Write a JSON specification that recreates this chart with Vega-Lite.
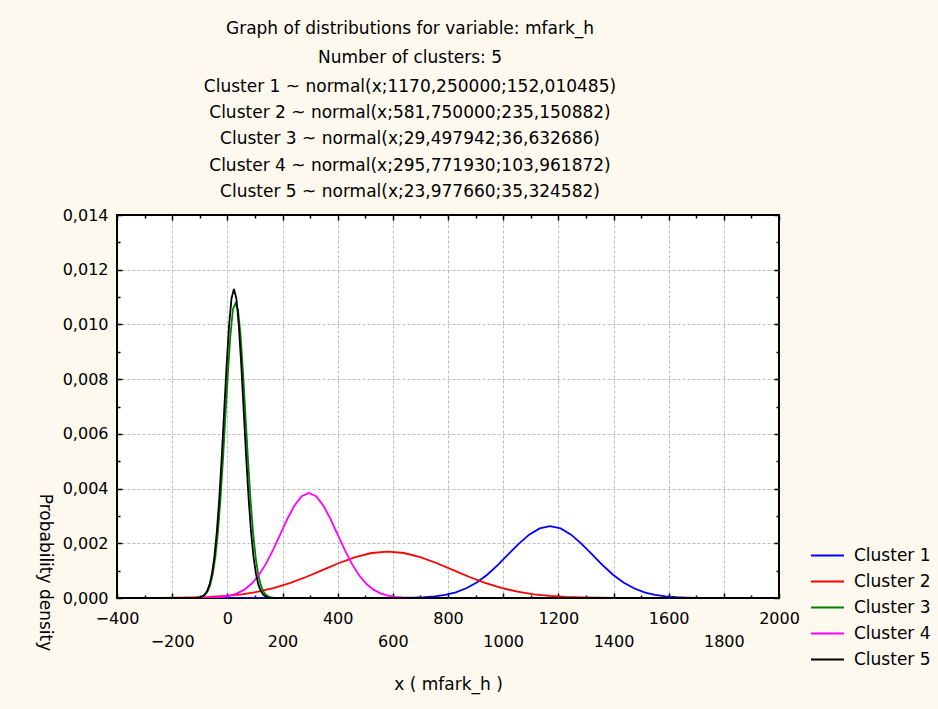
{
  "$schema": "https://vega.github.io/schema/vega-lite/v6.json",
  "width": 662,
  "height": 383,
  "autosize": {"type": "none"},
  "padding": {"left": 117, "top": 215, "right": 159, "bottom": 111},
  "background": "#FDF9EF",
  "config": {
    "font": "DejaVu Sans",
    "view": {"stroke": "black", "strokeWidth": 2, "fill": "white"},
    "axis": {"labelFont": "DejaVu Sans", "labelFontSize": 16, "labelColor": "black", "titleFont": "DejaVu Sans", "titleFontSize": 17, "titleFontWeight": "normal", "titleColor": "black", "gridColor": "#bdbdbd", "gridDash": [3, 2], "gridWidth": 1, "tickColor": "black", "tickWidth": 1.5, "domain": false, "labelOverlap": false, "labelFlush": false},
    "legend": {"labelFont": "DejaVu Sans", "labelFontSize": 17, "labelColor": "black"}
  },
  "title": {
    "text": ["Graph of distributions for variable: mfark_h", "Number of clusters: 5"],
    "subtitle": ["Cluster 1 ~ normal(x;1170,250000;152,010485)", "Cluster 2 ~ normal(x;581,750000;235,150882)", "Cluster 3 ~ normal(x;29,497942;36,632686)", "Cluster 4 ~ normal(x;295,771930;103,961872)", "Cluster 5 ~ normal(x;23,977660;35,324582)"],
    "font": "DejaVu Sans", "subtitleFont": "DejaVu Sans",
    "fontSize": 17, "subtitleFontSize": 17,
    "fontWeight": "normal", "color": "black", "subtitleColor": "black",
    "lineHeight": 29, "subtitleLineHeight": 26.3, "subtitlePadding": 12,
    "anchor": "middle", "dx": -38, "offset": 6
  },
  "data": {"values": [
    {"cluster": "Cluster 1", "x": -400, "density": 0},
    {"cluster": "Cluster 1", "x": 562.21, "density": 0.00000088},
    {"cluster": "Cluster 1", "x": 600.21, "density": 0.00000233},
    {"cluster": "Cluster 1", "x": 638.21, "density": 0.00000575},
    {"cluster": "Cluster 1", "x": 676.22, "density": 0.00001333},
    {"cluster": "Cluster 1", "x": 714.22, "density": 0.00002916},
    {"cluster": "Cluster 1", "x": 752.22, "density": 0.00005981},
    {"cluster": "Cluster 1", "x": 790.23, "density": 0.00011532},
    {"cluster": "Cluster 1", "x": 828.23, "density": 0.00020881},
    {"cluster": "Cluster 1", "x": 866.23, "density": 0.0003552},
    {"cluster": "Cluster 1", "x": 904.23, "density": 0.0005676},
    {"cluster": "Cluster 1", "x": 942.24, "density": 0.00085204},
    {"cluster": "Cluster 1", "x": 980.24, "density": 0.0012016},
    {"cluster": "Cluster 1", "x": 1018.24, "density": 0.0015918},
    {"cluster": "Cluster 1", "x": 1056.24, "density": 0.0019811},
    {"cluster": "Cluster 1", "x": 1094.25, "density": 0.0023161},
    {"cluster": "Cluster 1", "x": 1132.25, "density": 0.0025437},
    {"cluster": "Cluster 1", "x": 1170.25, "density": 0.0026245},
    {"cluster": "Cluster 1", "x": 1208.25, "density": 0.0025437},
    {"cluster": "Cluster 1", "x": 1246.26, "density": 0.0023161},
    {"cluster": "Cluster 1", "x": 1284.26, "density": 0.0019811},
    {"cluster": "Cluster 1", "x": 1322.26, "density": 0.0015918},
    {"cluster": "Cluster 1", "x": 1360.26, "density": 0.0012016},
    {"cluster": "Cluster 1", "x": 1398.27, "density": 0.00085204},
    {"cluster": "Cluster 1", "x": 1436.27, "density": 0.0005676},
    {"cluster": "Cluster 1", "x": 1474.27, "density": 0.0003552},
    {"cluster": "Cluster 1", "x": 1512.27, "density": 0.00020881},
    {"cluster": "Cluster 1", "x": 1550.28, "density": 0.00011532},
    {"cluster": "Cluster 1", "x": 1588.28, "density": 0.00005981},
    {"cluster": "Cluster 1", "x": 1626.28, "density": 0.00002916},
    {"cluster": "Cluster 1", "x": 1664.28, "density": 0.00001333},
    {"cluster": "Cluster 1", "x": 1702.29, "density": 0.00000575},
    {"cluster": "Cluster 1", "x": 1740.29, "density": 0.00000233},
    {"cluster": "Cluster 1", "x": 1778.29, "density": 0.00000088},
    {"cluster": "Cluster 1", "x": 2000, "density": 0},

    {"cluster": "Cluster 2", "x": -400, "density": 0.0000003},
    {"cluster": "Cluster 2", "x": -358.85, "density": 0.00000057},
    {"cluster": "Cluster 2", "x": -300.06, "density": 0.00000151},
    {"cluster": "Cluster 2", "x": -241.28, "density": 0.00000372},
    {"cluster": "Cluster 2", "x": -182.49, "density": 0.00000862},
    {"cluster": "Cluster 2", "x": -123.70, "density": 0.00001885},
    {"cluster": "Cluster 2", "x": -64.91, "density": 0.00003867},
    {"cluster": "Cluster 2", "x": -6.13, "density": 0.00007455},
    {"cluster": "Cluster 2", "x": 52.66, "density": 0.00013498},
    {"cluster": "Cluster 2", "x": 111.45, "density": 0.00022962},
    {"cluster": "Cluster 2", "x": 170.24, "density": 0.00036692},
    {"cluster": "Cluster 2", "x": 229.02, "density": 0.0005508},
    {"cluster": "Cluster 2", "x": 287.81, "density": 0.00077676},
    {"cluster": "Cluster 2", "x": 346.60, "density": 0.001029},
    {"cluster": "Cluster 2", "x": 405.39, "density": 0.0012807},
    {"cluster": "Cluster 2", "x": 464.17, "density": 0.0014972},
    {"cluster": "Cluster 2", "x": 522.96, "density": 0.0016444},
    {"cluster": "Cluster 2", "x": 581.75, "density": 0.0016966},
    {"cluster": "Cluster 2", "x": 640.54, "density": 0.0016444},
    {"cluster": "Cluster 2", "x": 699.33, "density": 0.0014972},
    {"cluster": "Cluster 2", "x": 758.11, "density": 0.0012807},
    {"cluster": "Cluster 2", "x": 816.90, "density": 0.001029},
    {"cluster": "Cluster 2", "x": 875.69, "density": 0.00077676},
    {"cluster": "Cluster 2", "x": 934.48, "density": 0.0005508},
    {"cluster": "Cluster 2", "x": 993.26, "density": 0.00036692},
    {"cluster": "Cluster 2", "x": 1052.05, "density": 0.00022962},
    {"cluster": "Cluster 2", "x": 1110.84, "density": 0.00013498},
    {"cluster": "Cluster 2", "x": 1169.63, "density": 0.00007455},
    {"cluster": "Cluster 2", "x": 1228.41, "density": 0.00003867},
    {"cluster": "Cluster 2", "x": 1287.20, "density": 0.00001885},
    {"cluster": "Cluster 2", "x": 1345.99, "density": 0.00000862},
    {"cluster": "Cluster 2", "x": 1404.78, "density": 0.00000372},
    {"cluster": "Cluster 2", "x": 1463.56, "density": 0.00000151},
    {"cluster": "Cluster 2", "x": 1522.35, "density": 0.00000057},
    {"cluster": "Cluster 2", "x": 2000, "density": 0},

    {"cluster": "Cluster 3", "x": -400, "density": 0},
    {"cluster": "Cluster 3", "x": -117.03, "density": 0.00000365},
    {"cluster": "Cluster 3", "x": -107.88, "density": 0.00000968},
    {"cluster": "Cluster 3", "x": -98.72, "density": 0.00002385},
    {"cluster": "Cluster 3", "x": -89.56, "density": 0.00005532},
    {"cluster": "Cluster 3", "x": -80.40, "density": 0.00012099},
    {"cluster": "Cluster 3", "x": -71.24, "density": 0.00024818},
    {"cluster": "Cluster 3", "x": -62.08, "density": 0.00047851},
    {"cluster": "Cluster 3", "x": -52.93, "density": 0.00086641},
    {"cluster": "Cluster 3", "x": -43.77, "density": 0.0014739},
    {"cluster": "Cluster 3", "x": -34.61, "density": 0.0023552},
    {"cluster": "Cluster 3", "x": -25.45, "density": 0.0035354},
    {"cluster": "Cluster 3", "x": -16.29, "density": 0.0049858},
    {"cluster": "Cluster 3", "x": -7.14, "density": 0.0066051},
    {"cluster": "Cluster 3", "x": 2.02, "density": 0.0082202},
    {"cluster": "Cluster 3", "x": 11.18, "density": 0.0096104},
    {"cluster": "Cluster 3", "x": 20.34, "density": 0.010555},
    {"cluster": "Cluster 3", "x": 29.50, "density": 0.01077},
    {"cluster": "Cluster 3", "x": 38.66, "density": 0.010555},
    {"cluster": "Cluster 3", "x": 47.81, "density": 0.0096104},
    {"cluster": "Cluster 3", "x": 56.97, "density": 0.0082202},
    {"cluster": "Cluster 3", "x": 66.13, "density": 0.0066051},
    {"cluster": "Cluster 3", "x": 75.29, "density": 0.0049858},
    {"cluster": "Cluster 3", "x": 84.45, "density": 0.0035354},
    {"cluster": "Cluster 3", "x": 93.61, "density": 0.0023552},
    {"cluster": "Cluster 3", "x": 102.76, "density": 0.0014739},
    {"cluster": "Cluster 3", "x": 111.92, "density": 0.00086641},
    {"cluster": "Cluster 3", "x": 121.08, "density": 0.00047851},
    {"cluster": "Cluster 3", "x": 130.24, "density": 0.00024818},
    {"cluster": "Cluster 3", "x": 139.40, "density": 0.00012099},
    {"cluster": "Cluster 3", "x": 148.55, "density": 0.00005532},
    {"cluster": "Cluster 3", "x": 157.71, "density": 0.00002385},
    {"cluster": "Cluster 3", "x": 166.87, "density": 0.00000968},
    {"cluster": "Cluster 3", "x": 176.03, "density": 0.00000365},
    {"cluster": "Cluster 3", "x": 2000, "density": 0},

    {"cluster": "Cluster 4", "x": -400, "density": 0},
    {"cluster": "Cluster 4", "x": -120.08, "density": 0.00000129},
    {"cluster": "Cluster 4", "x": -94.09, "density": 0.00000341},
    {"cluster": "Cluster 4", "x": -68.10, "density": 0.0000084},
    {"cluster": "Cluster 4", "x": -42.11, "density": 0.00001949},
    {"cluster": "Cluster 4", "x": -16.12, "density": 0.00004263},
    {"cluster": "Cluster 4", "x": 9.87, "density": 0.00008745},
    {"cluster": "Cluster 4", "x": 35.86, "density": 0.00016862},
    {"cluster": "Cluster 4", "x": 61.86, "density": 0.0003053},
    {"cluster": "Cluster 4", "x": 87.85, "density": 0.00051935},
    {"cluster": "Cluster 4", "x": 113.84, "density": 0.00082992},
    {"cluster": "Cluster 4", "x": 139.83, "density": 0.0012458},
    {"cluster": "Cluster 4", "x": 165.82, "density": 0.0017569},
    {"cluster": "Cluster 4", "x": 191.81, "density": 0.0023275},
    {"cluster": "Cluster 4", "x": 217.80, "density": 0.0028966},
    {"cluster": "Cluster 4", "x": 243.79, "density": 0.0033865},
    {"cluster": "Cluster 4", "x": 269.78, "density": 0.0037193},
    {"cluster": "Cluster 4", "x": 295.77, "density": 0.0038374},
    {"cluster": "Cluster 4", "x": 321.76, "density": 0.0037193},
    {"cluster": "Cluster 4", "x": 347.75, "density": 0.0033865},
    {"cluster": "Cluster 4", "x": 373.74, "density": 0.0028966},
    {"cluster": "Cluster 4", "x": 399.73, "density": 0.0023275},
    {"cluster": "Cluster 4", "x": 425.72, "density": 0.0017569},
    {"cluster": "Cluster 4", "x": 451.71, "density": 0.0012458},
    {"cluster": "Cluster 4", "x": 477.70, "density": 0.00082992},
    {"cluster": "Cluster 4", "x": 503.69, "density": 0.00051935},
    {"cluster": "Cluster 4", "x": 529.68, "density": 0.0003053},
    {"cluster": "Cluster 4", "x": 555.68, "density": 0.00016862},
    {"cluster": "Cluster 4", "x": 581.67, "density": 0.00008745},
    {"cluster": "Cluster 4", "x": 607.66, "density": 0.00004263},
    {"cluster": "Cluster 4", "x": 633.65, "density": 0.00001949},
    {"cluster": "Cluster 4", "x": 659.64, "density": 0.0000084},
    {"cluster": "Cluster 4", "x": 685.63, "density": 0.00000341},
    {"cluster": "Cluster 4", "x": 711.62, "density": 0.00000129},
    {"cluster": "Cluster 4", "x": 2000, "density": 0},

    {"cluster": "Cluster 5", "x": -400, "density": 0},
    {"cluster": "Cluster 5", "x": -117.32, "density": 0.00000378},
    {"cluster": "Cluster 5", "x": -108.49, "density": 0.00001004},
    {"cluster": "Cluster 5", "x": -99.66, "density": 0.00002473},
    {"cluster": "Cluster 5", "x": -90.83, "density": 0.00005737},
    {"cluster": "Cluster 5", "x": -82.00, "density": 0.00012548},
    {"cluster": "Cluster 5", "x": -73.17, "density": 0.00025739},
    {"cluster": "Cluster 5", "x": -64.33, "density": 0.00049626},
    {"cluster": "Cluster 5", "x": -55.50, "density": 0.00089855},
    {"cluster": "Cluster 5", "x": -46.67, "density": 0.0015285},
    {"cluster": "Cluster 5", "x": -37.84, "density": 0.0024426},
    {"cluster": "Cluster 5", "x": -29.01, "density": 0.0036666},
    {"cluster": "Cluster 5", "x": -20.18, "density": 0.0051707},
    {"cluster": "Cluster 5", "x": -11.35, "density": 0.0068502},
    {"cluster": "Cluster 5", "x": -2.52, "density": 0.0085252},
    {"cluster": "Cluster 5", "x": 6.32, "density": 0.009967},
    {"cluster": "Cluster 5", "x": 15.15, "density": 0.010947},
    {"cluster": "Cluster 5", "x": 23.98, "density": 0.011294},
    {"cluster": "Cluster 5", "x": 32.81, "density": 0.010947},
    {"cluster": "Cluster 5", "x": 41.64, "density": 0.009967},
    {"cluster": "Cluster 5", "x": 50.47, "density": 0.0085252},
    {"cluster": "Cluster 5", "x": 59.30, "density": 0.0068502},
    {"cluster": "Cluster 5", "x": 68.13, "density": 0.0051707},
    {"cluster": "Cluster 5", "x": 76.97, "density": 0.0036666},
    {"cluster": "Cluster 5", "x": 85.80, "density": 0.0024426},
    {"cluster": "Cluster 5", "x": 94.63, "density": 0.0015285},
    {"cluster": "Cluster 5", "x": 103.46, "density": 0.00089855},
    {"cluster": "Cluster 5", "x": 112.29, "density": 0.00049626},
    {"cluster": "Cluster 5", "x": 121.12, "density": 0.00025739},
    {"cluster": "Cluster 5", "x": 129.95, "density": 0.00012548},
    {"cluster": "Cluster 5", "x": 138.78, "density": 0.00005737},
    {"cluster": "Cluster 5", "x": 147.61, "density": 0.00002473},
    {"cluster": "Cluster 5", "x": 156.44, "density": 0.00001004},
    {"cluster": "Cluster 5", "x": 165.28, "density": 0.00000378},
    {"cluster": "Cluster 5", "x": 2000, "density": 0}
  ]},
  "layer": [
    {
      "mark": {"type": "line", "strokeWidth": 1.8, "clip": true},
      "encoding": {
        "x": {"field": "x", "type": "quantitative",
          "scale": {"domain": [-400, 2000], "nice": false, "zero": false},
          "axis": {"orient": "bottom", "title": "x ( mfark_h )",
            "values": [-400,-300,-200,-100,0,100,200,300,400,500,600,700,800,900,1000,1100,1200,1300,1400,1500,1600,1700,1800,1900,2000],
            "labelExpr": "datum.value % 200 === 0 ? format(datum.value, 'd') : ''",
            "labelPadding": {"condition": {"test": "datum.value % 400 === 0", "value": 17}, "value": 40},
            "tickSize": {"condition": {"test": "datum.value % 200 === 0", "value": -5}, "value": -3},
            "gridOpacity": {"condition": {"test": "datum.value % 200 === 0 && datum.value > -400 && datum.value < 2000", "value": 1}, "value": 0},
            "titleX": 331, "titleY": 86, "titleBaseline": "middle", "titleAlign": "center"}},
        "y": {"field": "density", "type": "quantitative",
          "scale": {"domain": [0, 0.014], "nice": false},
          "axis": {"orient": "left", "title": "Probability density",
            "values": [0,0.001,0.002,0.003,0.004,0.005,0.006,0.007,0.008,0.009,0.010,0.011,0.012,0.013,0.014],
            "labelExpr": "round(datum.value*1000) % 2 === 0 ? replace(format(datum.value, '.3f'), '.', ',') : ''",
            "labelPadding": 14,
            "tickSize": {"condition": {"test": "round(datum.value*1000) % 2 === 0", "value": -5}, "value": -3},
            "gridOpacity": {"condition": {"test": "round(datum.value*1000) % 2 === 0 && datum.value > 0 && datum.value < 0.014", "value": 1}, "value": 0},
            "titleAngle": 90, "titleX": -73, "titleY": 357, "titleAlign": "center", "titleBaseline": "middle"}},
        "color": {"field": "cluster", "type": "nominal",
          "scale": {"domain": ["Cluster 1","Cluster 2","Cluster 3","Cluster 4","Cluster 5"], "range": ["#0000FF","#FF0000","#008000","#FF00FF","#000000"]},
          "legend": {"title": null, "orient": "none", "legendX": 693, "legendY": 323, "symbolType": "stroke", "symbolSize": 1089, "symbolStrokeWidth": 2, "labelOffset": 9, "rowPadding": -7.5, "padding": 0}}
      }
    },
    {
      "mark": {"type": "line", "opacity": 0},
      "encoding": {
        "x": {"field": "x", "type": "quantitative",
          "axis": {"orient": "top", "title": null, "labels": false, "grid": false,
            "values": [-400,-300,-200,-100,0,100,200,300,400,500,600,700,800,900,1000,1100,1200,1300,1400,1500,1600,1700,1800,1900,2000],
            "tickSize": {"condition": {"test": "datum.value % 200 === 0", "value": -5}, "value": -3}}},
        "y": {"field": "density", "type": "quantitative",
          "axis": {"orient": "right", "title": null, "labels": false, "grid": false,
            "values": [0,0.001,0.002,0.003,0.004,0.005,0.006,0.007,0.008,0.009,0.010,0.011,0.012,0.013,0.014],
            "tickSize": {"condition": {"test": "round(datum.value*1000) % 2 === 0", "value": -5}, "value": -3}}},
        "detail": {"field": "cluster"}
      }
    }
  ],
  "resolve": {"axis": {"x": "independent", "y": "independent"}}
}
